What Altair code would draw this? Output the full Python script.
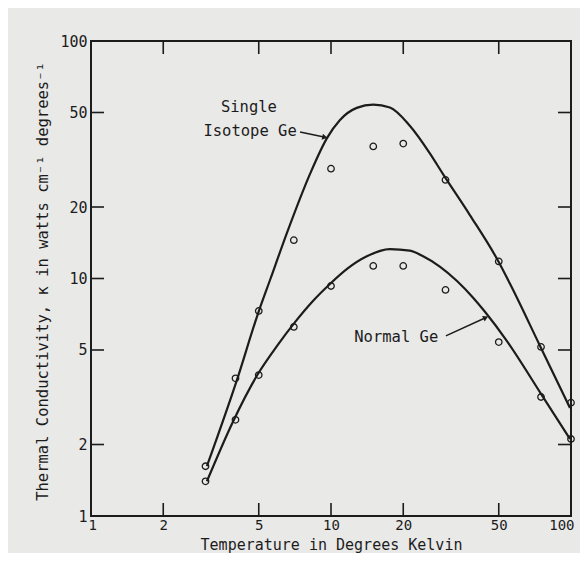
import altair as alt
import pandas as pd

# ---- measured data points (open circles) ----
temp_pts = [3, 4, 5, 7, 10, 15, 20, 30, 50, 75, 100]
single_pts = [1.62, 3.8, 7.3, 14.5, 29.0, 36.0, 37.0, 26.0, 11.8, 5.15, 3.0]
normal_pts = [1.40, 2.54, 3.92, 6.25, 9.3, 11.3, 11.3, 8.95, 5.4, 3.17, 2.11]

# ---- smooth curves ----
single_curve_t = [3.04, 4.06, 4.96, 5.6, 6.56, 8.17, 9.62, 10.9, 12.8, 15.0,
                  17.6, 21.3, 25.9, 29.3, 37.9, 49.6, 55.7, 74.3, 99.0]
single_curve_k = [1.62, 3.75, 7.1, 10.0, 15.6, 27.5, 39.0, 46.5, 52.3, 54.0,
                  52.5, 44.0, 33.5, 27.5, 18.5, 11.9, 9.5, 5.2, 2.85]
normal_curve_t = [3.04, 3.9, 4.96, 5.96, 7.08, 8.41, 9.9, 11.7, 14.1, 17.6, 21.3,
                  24.2, 28.5, 33.5, 39.1, 43.8, 54.1, 75.0, 99.0]
normal_curve_k = [1.40, 2.49, 3.96, 5.20, 6.55, 8.04, 9.48, 11.0, 12.4, 13.3, 13.1,
                  12.4, 11.2, 9.76, 8.30, 7.24, 5.45, 3.27, 2.11]

# ---- axes ----
axis_values = [1, 2, 5, 10, 20, 50, 100]
inner_ticks = [2, 5, 10, 20, 50]

# ---- annotations ----
note_text = ["Single", "Isotope Ge", "Normal Ge"]
note_t = [4.55, 4.6, 18.7]
note_k = [52.7, 41.8, 5.67]
arrow_tail_t = [7.43, 30.1]
arrow_tail_k = [41.4, 5.73]
arrow_head_t = [9.35, 43.8]
arrow_head_k = [39.4, 6.82]

INK = "#1c1c1c"
FONT = "DejaVu Sans Mono"
xs = alt.Scale(type="log", domain=[1, 100], nice=False)
ys = alt.Scale(type="log", domain=[1, 100], nice=False)

pts = pd.DataFrame({
    "t": temp_pts + temp_pts,
    "k": single_pts + normal_pts,
    "s": ["Single"] * len(temp_pts) + ["Normal"] * len(temp_pts),
})
curves = pd.DataFrame({
    "t": single_curve_t + normal_curve_t,
    "k": single_curve_k + normal_curve_k,
    "s": ["Single"] * len(single_curve_t) + ["Normal"] * len(normal_curve_t),
})
notes = pd.DataFrame({"t": note_t, "k": note_k, "label": note_text})
arrows = pd.DataFrame({"t": arrow_tail_t, "k": arrow_tail_k,
                       "t2": arrow_head_t, "k2": arrow_head_k})
heads1 = pd.DataFrame({"t": arrow_head_t[:1], "k": arrow_head_k[:1]})
heads2 = pd.DataFrame({"t": arrow_head_t[1:], "k": arrow_head_k[1:]})
ticks = pd.DataFrame({"t": inner_ticks, "k": inner_ticks})

x_axis = alt.Axis(values=axis_values, format="d", ticks=False, domain=False, grid=False,
                  labelFlush=True, labelFlushOffset=3, labelOverlap=False, labelPadding=2,
                  labelFontSize=14, labelFont=FONT, labelColor=INK,
                  title="Temperature in Degrees Kelvin", titleFont=FONT, titleFontSize=15,
                  titleFontWeight="normal", titleColor=INK, titleY=33,
                  titleBaseline="alphabetic")
y_axis = alt.Axis(values=axis_values, format="d", ticks=False, domain=False, grid=False,
                  labelFlush=False, labelOverlap=False, labelPadding=4, labelFontSize=15,
                  labelFont=FONT, labelColor=INK,
                  title="Thermal Conductivity, κ in watts cm⁻¹ degrees⁻¹", titleFont=FONT,
                  titleFontSize=15.5, titleFontWeight="normal", titleColor=INK,
                  titleAngle=270, titleX=-49, titleY=240, titleAlign="center",
                  titleBaseline="middle")

X = alt.X("t:Q", scale=xs, axis=x_axis)
Y = alt.Y("k:Q", scale=ys, axis=y_axis)

line_layer = alt.Chart(curves).mark_line(color=INK, strokeWidth=2.2, interpolate="monotone").encode(
    x=X, y=Y, detail="s:N",
)
point_layer = alt.Chart(pts).mark_point(shape="circle", filled=False, color=INK, size=42,
                                        strokeWidth=1.3, opacity=1).encode(x=X, y=Y)
text_layer = alt.Chart(notes).mark_text(font=FONT, fontSize=15.5, color=INK,
                                        align="center", baseline="middle").encode(
    x=X, y=Y, text="label:N",
)
arrow_layer = alt.Chart(arrows).mark_rule(color=INK, strokeWidth=1.5).encode(
    x=X, x2="t2:Q", y=Y, y2="k2:Q",
)
head1_layer = alt.Chart(heads1).mark_point(shape="triangle", filled=True, color=INK, size=36,
                                           angle=102, opacity=1).encode(x=X, y=Y)
head2_layer = alt.Chart(heads2).mark_point(shape="triangle", filled=True, color=INK, size=36,
                                           angle=65, opacity=1).encode(x=X, y=Y)

tick_bottom = alt.Chart(ticks).mark_rule(color=INK, strokeWidth=1.6).encode(
    x=X, y=alt.value(462), y2=alt.value(475))
tick_top = alt.Chart(ticks).mark_rule(color=INK, strokeWidth=1.6).encode(
    x=X, y=alt.value(0), y2=alt.value(13))
tick_left = alt.Chart(ticks).mark_rule(color=INK, strokeWidth=1.6).encode(
    y=Y, x=alt.value(0), x2=alt.value(13))
tick_right = alt.Chart(ticks).mark_rule(color=INK, strokeWidth=1.6).encode(
    y=Y, x=alt.value(467), x2=alt.value(480))

chart = alt.layer(
    line_layer, point_layer, text_layer, arrow_layer, head1_layer, head2_layer,
    tick_bottom, tick_top, tick_left, tick_right,
).properties(
    width=480, height=475,
    background="#e9e9e7",
    padding={"left": 83, "top": 33, "right": 9, "bottom": 37},
    autosize=alt.AutoSizeParams(type="none"),
).configure_view(stroke=INK, strokeWidth=2)

chart.save("out.html", embed_options={"renderer": "svg", "actions": False})
